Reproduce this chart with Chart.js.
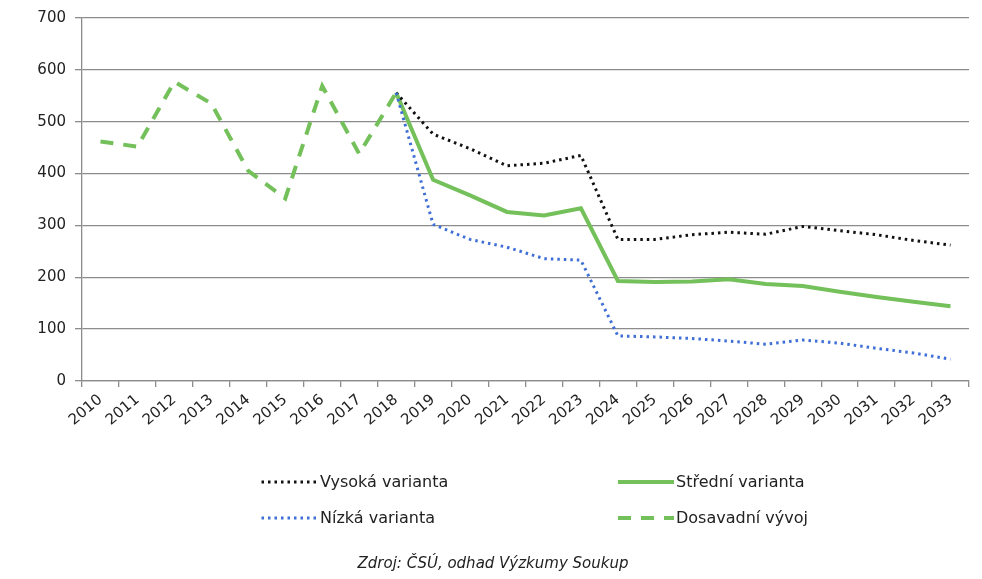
<!DOCTYPE html>
<html>
<head>
<meta charset="utf-8">
<script src="https://cdn.jsdelivr.net/npm/chart.js@4.4.1/dist/chart.umd.min.js"></script>
<style>
  html, body { margin: 0; padding: 0; background: #fff; }
  #wrap { position: relative; width: 982px; height: 579px; font-family: "DejaVu Sans", Verdana, sans-serif; color: #222; }
  #wrap canvas#c { position: absolute; left: 0; top: 0; }
  .leg { position: absolute; font-size: 16px; line-height: 20px; white-space: nowrap; display: flex; align-items: center; }
  .leg svg { display: block; margin-right: 2px; }
  #src { position: absolute; left: 0; width: 982px; top: 553px; text-align: center; font-style: italic; font-size: 15px; line-height: 20px; padding-left: 2px; }
</style>
</head>
<body>
<div id="wrap">
  <canvas id="c" width="982" height="579"></canvas>
  <div class="leg" style="left:260px; top:472px;">
    <svg width="58" height="6"><line x1="1.5" y1="3" x2="57" y2="3" stroke="#111" stroke-width="3" stroke-dasharray="2.5 4"/></svg>Vysoká varianta
  </div>
  <div class="leg" style="left:618px; top:472px;">
    <svg width="56" height="6"><line x1="0" y1="3" x2="56" y2="3" stroke="#74c05a" stroke-width="4"/></svg>Střední varianta
  </div>
  <div class="leg" style="left:260px; top:508px;">
    <svg width="58" height="6"><line x1="1.5" y1="3" x2="57" y2="3" stroke="#3f6fd6" stroke-width="3" stroke-dasharray="2.5 4"/></svg>Nízká varianta
  </div>
  <div class="leg" style="left:618px; top:508px;">
    <svg width="56" height="6"><line x1="0" y1="3" x2="56" y2="3" stroke="#74c05a" stroke-width="4" stroke-dasharray="13 10"/></svg>Dosavadní vývoj
  </div>
  <div id="src">Zdroj: ČSÚ, odhad Výzkumy Soukup</div>
</div>
<script>
const years = ["2010","2011","2012","2013","2014","2015","2016","2017","2018","2019","2020","2021","2022","2023","2024","2025","2026","2027","2028","2029","2030","2031","2032","2033"];
const history = [462, 452, 577, 535, 405, 352, 569, 438, 556, null, null, null, null, null, null, null, null, null, null, null, null, null, null, null];
const high = [null, null, null, null, null, null, null, null, 556, 476, 448, 415, 420, 435, 273, 273, 282, 287, 283, 298, 290, 282, 271, 262];
const mid = [null, null, null, null, null, null, null, null, 556, 388, 358, 326, 319, 333, 193, 191, 192, 196, 187, 183, 172, 162, 153, 144];
const low = [null, null, null, null, null, null, null, null, 556, 302, 273, 258, 236, 233, 87, 85, 82, 77, 71, 79, 73, 63, 54, 42];
const yTicks = [0, 100, 200, 300, 400, 500, 600, 700];

const FONT = { family: "'DejaVu Sans', Verdana, sans-serif", size: 15 };
const GRID = '#8c8c8c';

new Chart(document.getElementById('c'), {
  type: 'line',
  data: {
    labels: years,
    datasets: [
      { label: 'Nízká varianta', data: low, borderColor: '#3f6fd6', borderWidth: 3, borderDash: [2.5, 4], pointRadius: 0, tension: 0, fill: false },
      { label: 'Vysoká varianta', data: high, borderColor: '#111', borderWidth: 3, borderDash: [2.5, 4], pointRadius: 0, tension: 0, fill: false },
      { label: 'Střední varianta', data: mid, borderColor: '#74c05a', borderWidth: 4, pointRadius: 0, tension: 0, fill: false },
      { label: 'Dosavadní vývoj', data: history, borderColor: '#74c05a', borderWidth: 4, borderDash: [13, 10], pointRadius: 0, tension: 0, fill: false }
    ]
  },
  options: {
    responsive: false,
    animation: false,
    events: [],
    layout: { padding: { left: 0, top: 17, right: 13, bottom: 0 } },
    plugins: { legend: { display: false }, tooltip: { enabled: false } },
    scales: {
      x: {
        type: 'category',
        offset: true,
        grid: { offset: true, drawOnChartArea: false, drawTicks: true, tickLength: 6, color: GRID, lineWidth: 1.3 },
        border: { color: GRID, width: 1.3 },
        ticks: { font: FONT, color: '#222', minRotation: 40, maxRotation: 40, autoSkip: false, padding: 4 },
        afterFit: (s) => { s.height = 579 - 381; }
      },
      y: {
        min: 0, max: 700,
        afterBuildTicks: (s) => { s.ticks = yTicks.map(v => ({ value: v })); },
        grid: { color: GRID, lineWidth: 1.3, tickLength: 7 },
        border: { color: GRID, width: 1.3 },
        ticks: { font: FONT, color: '#222', padding: 9 },
        afterFit: (s) => { s.width = 82; }
      }
    }
  }
});
</script>
</body>
</html>
